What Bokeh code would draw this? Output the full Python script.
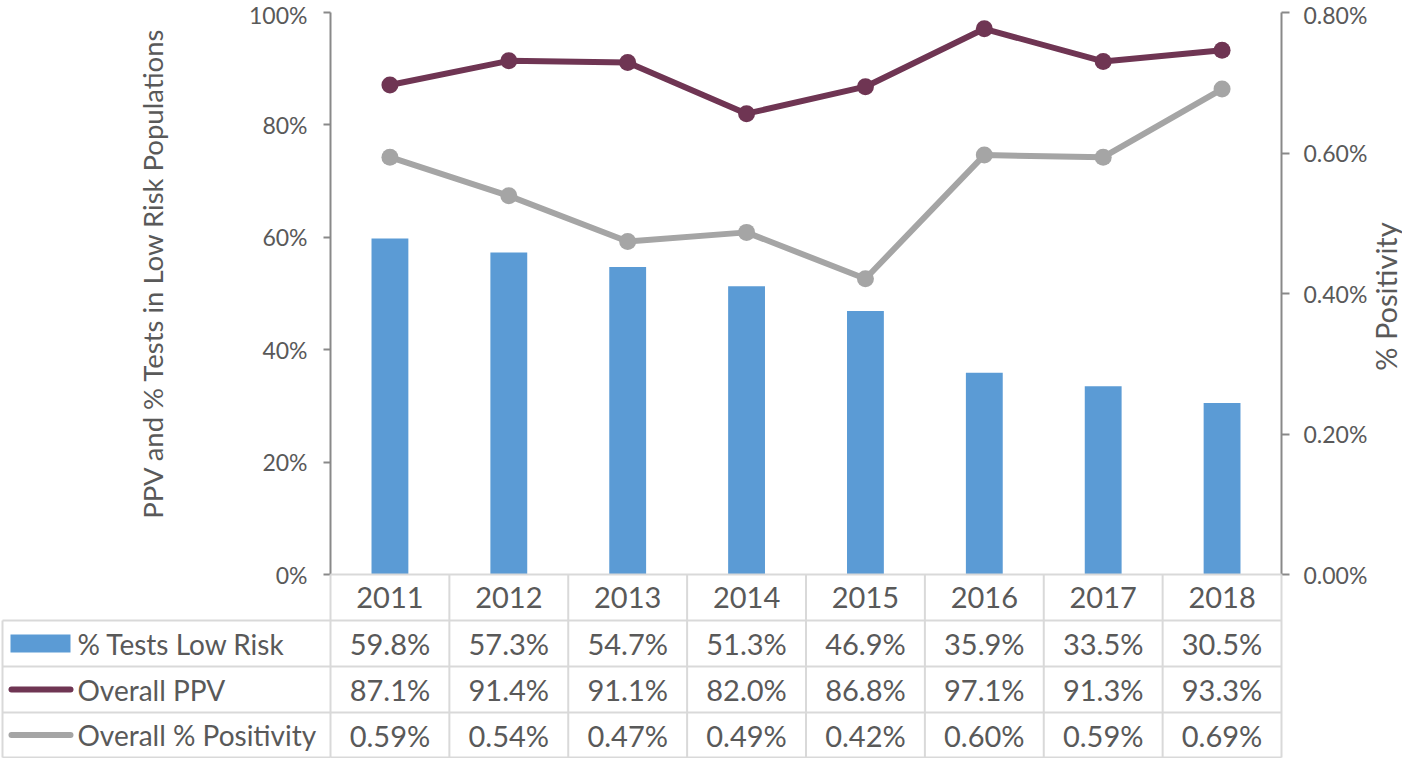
import math
from bokeh.plotting import figure
from bokeh.models import Range1d, LinearAxis, FixedTicker, PrintfTickFormatter
from bokeh.core.properties import value
from bokeh.embed import file_html
from bokeh.resources import INLINE

# ---------------- data ----------------
years = ["2011", "2012", "2013", "2014", "2015", "2016", "2017", "2018"]
tests_low_risk = [59.8, 57.3, 54.7, 51.3, 46.9, 35.9, 33.5, 30.5]            # %
overall_ppv = [87.1, 91.4, 91.1, 82.0, 86.8, 97.1, 91.3, 93.3]               # %
overall_positivity = [0.594, 0.539, 0.474, 0.487, 0.421, 0.597, 0.594, 0.691]  # %
series_names = ["% Tests Low Risk", "Overall PPV", "Overall % Positivity"]
left_ticks = [0, 20, 40, 60, 80, 100]
right_ticks = [0.0, 0.2, 0.4, 0.6, 0.8]
left_axis_title = "PPV and % Tests in Low Risk Populations"
right_axis_title = "% Positivity"

# ---------------- style ----------------
BLUE = "#5B9BD5"
PLUM = "#6F3553"
GRAY = "#A5A5A5"
TEXT = "#595959"
AXIS = "#898989"
GRID = "#D9D9D9"
FONT = "Lato"

# ---------------- layout (screen px) ----------------
W, H = 1402, 758
FL, FR = 330, 1281          # plot area left / right
FT = 12                     # plot area top
AX0 = 574                   # plot area bottom (0 baseline)
ROWS = [574, 620, 666, 712, 757]   # table row boundaries (below the plot area)
TABLE_LEFT = 2

n = len(years)
PXX = (FR - FL) / n
PXY = (AX0 - FT) / 100.0
RIGHT_MAX = right_ticks[-1]


def xd(px):
    return 0.5 + (px - FL) / PXX


def yd(py):
    return (AX0 - py) / PXY


x = list(range(1, n + 1))

p = figure(width=W, height=H, output_backend="svg", toolbar_location=None,
           x_range=Range1d(0.5, 0.5 + n), y_range=Range1d(0, 100),
           x_axis_location=None, y_axis_location="left",
           min_border_left=FL, min_border_right=W - FR,
           min_border_top=FT, min_border_bottom=H - AX0)
p.extra_y_ranges = {"pos": Range1d(0, RIGHT_MAX)}
p.grid.grid_line_color = None
p.outline_line_color = None
p.background_fill_color = "white"
p.border_fill_color = "white"


def style_axis(ax, ticks, fmt, label_standoff, tick_out):
    ax.ticker = FixedTicker(ticks=ticks)
    ax.formatter = PrintfTickFormatter(format=fmt)
    ax.major_label_text_font = FONT
    ax.major_label_text_font_size = "23px"
    ax.major_label_text_color = TEXT
    ax.major_label_standoff = label_standoff
    ax.axis_line_color = AXIS
    ax.axis_line_width = 2
    ax.major_tick_line_color = AXIS
    ax.major_tick_line_width = 2
    ax.major_tick_in = 0
    ax.major_tick_out = tick_out
    ax.minor_tick_line_color = None


style_axis(p.yaxis[0], left_ticks, "%d%%", 16, 7)
right_axis = LinearAxis(y_range_name="pos")
style_axis(right_axis, right_ticks, "%.2f%%", 14, 8)
p.add_layout(right_axis, "right")

# axis titles (rotated, placed like the original)
p.text(x=[xd(152)], y=[yd(272.5)], text=[left_axis_title], angle=math.pi / 2,
       text_align="center", text_baseline="alphabetic",
       text_font=value(FONT), text_font_size="27.5px", text_color=TEXT, level="overlay")
p.text(x=[xd(1385)], y=[yd(296)], text=[right_axis_title], angle=math.pi / 2,
       text_align="center", text_baseline="alphabetic",
       text_font=value(FONT), text_font_size="29px", text_color=TEXT, level="overlay")

# ---------------- series ----------------
p.vbar(x=x, top=tests_low_risk, bottom=0, width=0.31, fill_color=BLUE, line_color=None)

p.line(x, overall_ppv, line_width=6, line_color=PLUM, line_join="round")
p.scatter(x, overall_ppv, size=17, marker="circle", fill_color=PLUM, line_color=None)

p.line(x, overall_positivity, line_width=6, line_color=GRAY, line_join="round", y_range_name="pos")
p.scatter(x, overall_positivity, size=17, marker="circle", fill_color=GRAY, line_color=None,
          y_range_name="pos")

# ---------------- data table ----------------
hx0, hx1, hy = [], [], []
for r in ROWS:
    hx0.append(0.5); hx1.append(0.5 + n); hy.append(yd(r))
for r in ROWS[1:]:
    hx0.append(xd(TABLE_LEFT)); hx1.append(0.5); hy.append(yd(r))
p.segment(x0=hx0, y0=hy, x1=hx1, y1=hy, line_color=GRID, line_width=2, level="overlay")

vx, vy0, vy1 = [], [], []
for i in range(n + 1):
    vx.append(0.5 + i); vy0.append(yd(ROWS[0])); vy1.append(yd(ROWS[-1]))
vx.append(xd(TABLE_LEFT)); vy0.append(yd(ROWS[1])); vy1.append(yd(ROWS[-1]))
p.segment(x0=vx, y0=vy0, x1=vx, y1=vy1, line_color=GRID, line_width=2, level="overlay")

mids = [(ROWS[i] + ROWS[i + 1]) / 2 for i in range(4)]
row_texts = [
    years,
    [f"{v:.1f}%" for v in tests_low_risk],
    [f"{v:.1f}%" for v in overall_ppv],
    [f"{v:.2f}%" for v in overall_positivity],
]
for m, texts in zip(mids, row_texts):
    p.text(x=x, y=[yd(m)] * n, text=texts, text_font=value(FONT), text_font_size="29px",
           text_color=TEXT, text_align="center", text_baseline="middle", level="overlay")

# row headers (legend keys + names)
p.text(x=[xd(77)] * 3, y=[yd(m) for m in mids[1:]], text=series_names,
       text_font=value(FONT), text_font_size="28px", text_color=TEXT,
       text_align="left", text_baseline="middle", level="overlay")
p.quad(left=[xd(10)], right=[xd(70)], top=[yd(mids[1] - 9)], bottom=[yd(mids[1] + 9)],
       fill_color=BLUE, line_color=None, level="overlay")
for m, c in zip(mids[2:], [PLUM, GRAY]):
    p.segment(x0=[xd(11)], y0=[yd(m)], x1=[xd(70)], y1=[yd(m)], line_color=c,
              line_width=6, line_cap="round", level="overlay")
    p.scatter(x=[xd(40)], y=[yd(m)], size=17, marker="circle", fill_color=c,
              line_color=None, level="overlay")

open("out.html", "w").write(file_html(p, INLINE))
